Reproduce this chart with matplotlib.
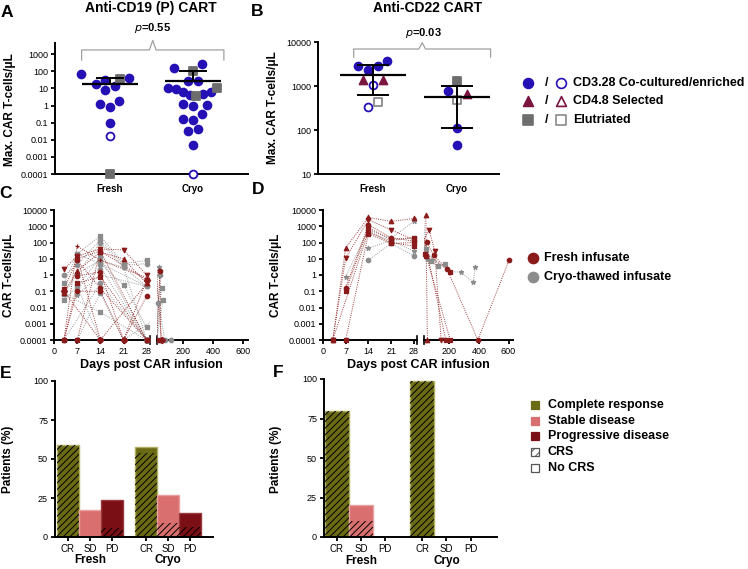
import matplotlib
matplotlib.use('Agg')
import matplotlib.pyplot as plt
import matplotlib.transforms as mtransforms
from matplotlib.patches import Rectangle
from matplotlib.ticker import FixedLocator, FuncFormatter, NullLocator

plt.rcParams['font.family'] = ['Liberation Sans', 'DejaVu Sans']
plt.rcParams['hatch.linewidth'] = 0.7

# ---- data ----
groups = ['Fresh', 'Cryo']

# panel A: anti-CD19 max CAR T-cells/uL
a_fresh = [67, 17, 31, 8, 14, 40, 1.3, 1.9, 0.85, 0.1, 0.017, 34, 1e-4]
a_fresh_type = ['c'] * 10 + ['c_o', 'e', 'e']
a_fresh_jit = [-0.35, -0.17, -0.06, -0.06, 0.06, 0.23, -0.12, 0.11, 0, 0, 0, 0.12, 0]
a_cryo = [165, 260, 27, 29, 11, 9, 6.4, 3.9, 5, 6.5, 1.3, 0.93, 1.07, 0.3, 0.17, 0.14,
          0.033, 0.044, 0.005, 105, 3.5, 10.5, 1e-4]
a_cryo_type = ['c'] * 19 + ['e', 'e', 'e', 'c_o']
a_cryo_jit = [-0.23, 0.11, -0.06, 0.06, -0.30, -0.21, -0.12, -0.04, 0.12, 0.21, -0.12, 0,
              0.17, 0.11, -0.12, 0, -0.06, 0.06, 0, 0, 0.04, 0.29, 0]
a_mean = [18, 28]
a_upper = [38, 100]
a_lower = [None, None]

# panel B: anti-CD22
b_fresh = [2900, 2300, 2900, 3700, 1350, 1350, 1050, 330, 430]
b_fresh_type = ['c', 'c', 'c', 'c', 't', 't', 'c_o', 'c_o', 'e_o']
b_fresh_jit = [-0.18, -0.06, 0.06, 0.17, -0.12, 0.12, 0, -0.06, 0.06]
b_cryo = [780, 1290, 660, 490, 110, 46]
b_cryo_type = ['c', 'e', 't', 'e_o', 'c', 'c']
b_cryo_jit = [-0.11, 0, 0.12, 0, 0, 0]
b_mean = [1800, 550]
b_upper = [2950, 1000]
b_lower = [615, 110]

# panel C: anti-CD19 kinetics (days, CAR T-cells/uL, marker)
c_fresh = [
    ([3, 7, 14, 21, 28], [2.2, 15, 40, 35, 1.0], 'v'),
    ([3, 7, 14, 28], [0.13, 10, 30, 0.5], 's'),
    ([3, 7, 14, 21, 28], [0.08, 1.8, 25, 10, 0.3], '^'),
    ([3, 7, 14, 28, 45], [1e-4, 60, 8, 0.7, 2.0], '+'),
    ([7, 14, 21, 28], [0.9, 1.5, 1e-4, 0.05], 'o'),
    ([3, 7, 14, 28], [1e-4, 0.3, 0.8, 1e-4], 's'),
    ([7, 14, 28, 50, 55], [8, 0.15, 1e-4, 1.8, 1e-4], 'o'),
    ([3, 14, 21, 28, 60], [0.1, 1e-4, 1e-4, 0.5, 1e-4], 'D'),
    ([7, 14, 28, 40], [1e-4, 30, 1e-4, 1e-4], 's'),
    ([3, 7, 14, 21], [1e-4, 0.1, 0.1, 1e-4], 'o'),
    ([7, 14, 28], [12, 1e-4, 0.3], 'v'),
]
c_cryo = [
    ([3, 7, 14, 21, 28], [0.3, 20, 250, 5, 8], 's'),
    ([3, 7, 14, 21, 28], [0.95, 4, 150, 4, 5], 'o'),
    ([3, 7, 14, 21, 28], [0.07, 1.2, 100, 3, 0.2], 'o'),
    ([3, 7, 14, 28], [0.03, 0.2, 12, 1e-4], 's'),
    ([7, 14, 21, 28], [20, 5, 0.25, 0.0006], 's'),
    ([7, 14, 28, 45], [0.15, 3, 1e-4, 1e-4], '^'),
    ([7, 14, 28, 40], [0.06, 1, 0.2, 3], '*'),
    ([3, 14, 28, 50], [1e-4, 0.3, 1e-4, 1], 'o'),
    ([7, 14, 21, 38], [1e-4, 0.08, 1e-4, 0.02], 'o'),
    ([3, 14, 28, 60], [0.07, 0.005, 1e-4, 0.17], 's'),
    ([7, 14, 28, 70], [0.2, 1e-4, 1e-4, 0.03], 's'),
    ([14, 28, 80, 120], [5, 0.2, 1e-4, 1e-4], 'o'),
    ([7, 14, 21, 28], [1.2, 8, 3, 1e-4], 'o'),
]

# panel D: anti-CD22 kinetics
d_fresh = [
    ([3, 7, 14, 21, 28, 42, 53], [1e-4, 47, 3500, 2000, 3000, 4600, 1e-4], '^'),
    ([3, 7, 14, 21, 28, 65, 102, 146], [1e-4, 11, 2500, 600, 150, 570, 30, 1e-4], 'v'),
    ([7, 14, 21, 28, 49, 95, 184, 393, 603], [0.17, 1200, 200, 120, 105, 16, 2.5, 1e-4, 8], 'o'),
    ([3, 14, 21, 28, 37, 207], [1e-4, 500, 100, 60, 21, 1.6], 's'),
    ([7, 14, 21, 28, 45, 207], [1e-4, 350, 87, 100, 15, 1e-4], 's'),
    ([7, 14, 21, 28, 177], [0.1, 800, 150, 200, 1e-4], 's'),
]
d_cryo = [
    ([7, 14, 21, 28, 42, 53, 85], [0.8, 600, 180, 2000, 45, 9, 8], '*'),
    ([14, 21, 28, 42, 75, 125, 172], [400, 130, 200, 35, 7, 3.5, 5], 's'),
    ([14, 21, 28, 207, 277, 363, 375], [45, 130, 30, 1.6, 1.5, 0.35, 3], '*'),
    ([14, 21, 28], [8, 90, 15], 'o'),
]

# panels E/F: response (% patients) and CRS share
outcomes = ['CR', 'SD', 'PD']
e_fresh = [58.8, 17.6, 23.5]
e_fresh_crs = [58.8, 0, 5.9]
e_cryo = [57.7, 26.9, 15.4]
e_cryo_crs = [53.8, 9.0, 6.4]
f_fresh = [80, 20, 0]
f_fresh_crs = [80, 10, 0]
f_cryo = [99, 0, 0]
f_cryo_crs = [99, 0, 0]

# ---- colours ----
BLUE = '#2410b4'
TRI = '#7a1540'
SQ = '#6d6d6d'
FRESH_C = '#8b1a1a'
CRYO_C = '#8c8c8c'
CR_C, SD_C, PD_C = '#6b6b16', '#d9706f', '#7a1016'
CR_E, SD_E, PD_E = '#b0b060', '#e8a0a0', '#9a3a3e'

STY = {
    'c': ('o', BLUE, BLUE), 'c_o': ('o', 'white', BLUE),
    't': ('^', TRI, TRI), 't_o': ('^', 'white', TRI),
    'e': ('s', SQ, SQ), 'e_o': ('s', 'white', '#8a8a8a'),
}

W, H = 748, 569
fig = plt.figure(figsize=(W / 100, H / 100), dpi=100)


def px_axes(x0, x1, y0, y1):
    return fig.add_axes([x0 / W, 1 - y1 / H, (x1 - x0) / W, (y1 - y0) / H])


def style(ax):
    for s in ['top', 'right']:
        ax.spines[s].set_visible(False)
    for s in ['left', 'bottom']:
        ax.spines[s].set_linewidth(1.4)
    ax.tick_params(width=1.3, length=3, labelsize=6.5, pad=2)


logfmt = FuncFormatter(lambda v, p: f'{v:g}')


def log_y(ax, lo, hi, ticks):
    ax.set_yscale('log')
    ax.set_ylim(lo, hi)
    ax.yaxis.set_major_locator(FixedLocator(ticks))
    ax.yaxis.set_major_formatter(logfmt)
    ax.yaxis.set_minor_locator(NullLocator())


def draw_dots(ax, pos, vals, types, jit):
    for v, t, j in zip(vals, types, jit):
        m, fc, ec = STY[t]
        ax.scatter(pos + j, v, marker=m, s=32, facecolor=fc, edgecolor=ec,
                   linewidths=1.3, clip_on=False, zorder=3)


def draw_mean(ax, pos, mean, hi, lo, mw, cw):
    ax.hlines(mean, pos - mw, pos + mw, color='k', lw=1.6, zorder=4)
    ax.vlines(pos, lo if lo else mean, hi, color='k', lw=1.4, zorder=4)
    ax.hlines(hi, pos - cw, pos + cw, color='k', lw=1.4, zorder=4)
    if lo:
        ax.hlines(lo, pos - cw, pos + cw, color='k', lw=1.4, zorder=4)


def bracket(ax, xl, xr, ylo, yhi, ypk):
    tr = mtransforms.blended_transform_factory(ax.transData, ax.transAxes)
    mid = (xl + xr) / 2
    ax.plot([xl, xl, mid - 0.04, mid, mid + 0.04, xr, xr],
            [ylo, yhi, yhi, ypk, yhi, yhi, ylo], color='#a0a0a0', lw=0.9,
            transform=tr, clip_on=False)


# ---- A ----
axA = px_axes(55, 248, 43, 174)
style(axA)
log_y(axA, 1e-4, 4500, [1e-4, 1e-3, 1e-2, 0.1, 1, 10, 100, 1000])
axA.set_xlim(-0.66, 1.66)
draw_dots(axA, 0, a_fresh, a_fresh_type, a_fresh_jit)
draw_dots(axA, 1, a_cryo, a_cryo_type, a_cryo_jit)
for i in range(2):
    draw_mean(axA, i, a_mean[i], a_upper[i], a_lower[i], 0.34, 0.17)
axA.set_xticks([0, 1])
axA.set_xticklabels(groups, fontweight='bold', fontsize=7)
axA.tick_params(axis='x', length=0, pad=7)
bracket(axA, -0.34, 1.37, 0.87, 0.947, 1.02)

# ---- B ----
axB = px_axes(318, 499, 42, 174)
style(axB)
log_y(axB, 10, 10000, [10, 100, 1000, 10000])
axB.set_xlim(-0.655, 1.5)
draw_dots(axB, 0, b_fresh, b_fresh_type, b_fresh_jit)
draw_dots(axB, 1, b_cryo, b_cryo_type, b_cryo_jit)
for i in range(2):
    draw_mean(axB, i, b_mean[i], b_upper[i], b_lower[i], 0.39, 0.19)
axB.set_xticks([0, 1])
axB.set_xticklabels(groups, fontweight='bold', fontsize=7)
axB.tick_params(axis='x', length=0, pad=7)
bracket(axB, -0.23, 1.4, 0.886, 0.947, 0.995)


# ---- C / D (broken x axis) ----
def seg_axes(x0, x1, x2, x3):
    a1 = px_axes(x0, x1, 210, 340)
    a2 = px_axes(x2, x3, 210, 340)
    for a in (a1, a2):
        style(a)
        log_y(a, 1e-4, 1e4, [10.0 ** k for k in range(-4, 5)])
    a1.set_xlim(0, 29)
    a1.set_xticks([0, 7, 14, 21, 28])
    a2.set_xlim(30, 630)
    a2.set_xticks([200, 400, 600])
    a2.spines['left'].set_visible(False)
    a2.tick_params(axis='y', left=False, labelleft=False)
    a1.plot([1, 1], [-0.03, 0.03], color='k', lw=1.2, transform=a1.transAxes, clip_on=False)
    a2.plot([0, 0], [-0.03, 0.03], color='k', lw=1.2, transform=a2.transAxes, clip_on=False)
    return a1, a2


def draw_traj(axes, trajs, color):
    for d, v, m in trajs:
        for a in axes:
            a.plot(d, v, ls=(0, (1, 1.3)), lw=0.7, color=color, alpha=0.85, zorder=2)
            lo, hi = a.get_xlim()
            xs = [x for x in d if lo <= x <= hi]
            ys = [y for x, y in zip(d, v) if lo <= x <= hi]
            a.scatter(xs, ys, marker=m, s=10, color=color, linewidths=0.9,
                      clip_on=False, zorder=3)


axC = seg_axes(54, 150, 157, 248)
draw_traj(axC, c_cryo, CRYO_C)
draw_traj(axC, c_fresh, FRESH_C)
axD = seg_axes(323, 417, 424, 513)
draw_traj(axD, d_cryo, CRYO_C)
draw_traj(axD, d_fresh, FRESH_C)

# ---- E / F ----
bar_x = [0, 1, 2, 3.55, 4.55, 5.55]


def draw_bars(ax, fresh, fresh_crs, cryo, cryo_crs, xlim):
    style(ax)
    vals = fresh + cryo
    crs = fresh_crs + cryo_crs
    ax.bar(bar_x, vals, width=1, color=[CR_C, SD_C, PD_C] * 2,
           edgecolor=[CR_E, SD_E, PD_E] * 2, lw=1, zorder=2)
    ax.bar(bar_x, crs, width=1, facecolor='none', edgecolor='black',
           hatch='/////', lw=0, zorder=3)
    ax.set_ylim(0, 100)
    ax.set_yticks([0, 25, 50, 75, 100])
    ax.set_xlim(*xlim)
    ax.set_xticks(bar_x)
    ax.set_xticklabels(outcomes * 2, fontsize=7)
    tr = mtransforms.blended_transform_factory(ax.transData, ax.transAxes)
    ax.text(1, -0.15, groups[0], transform=tr, ha='center', va='center',
            fontsize=8.5, fontweight='bold')
    ax.text(4.55, -0.15, groups[1], transform=tr, ha='center', va='center',
            fontsize=8.5, fontweight='bold')


axE = px_axes(55, 213, 381, 537)
draw_bars(axE, e_fresh, e_fresh_crs, e_cryo, e_cryo_crs, (-0.58, 6.58))
axF = px_axes(324, 497, 379, 537)
draw_bars(axF, f_fresh, f_fresh_crs, f_cryo, f_cryo_crs, (-0.54, 6.65))

# ---- overlay for text and legends (pixel coordinates) ----
ov = fig.add_axes([0, 0, 1, 1])
ov.set_xlim(0, W)
ov.set_ylim(H, 0)
ov.axis('off')

bold = dict(fontweight='bold')
for lab, x, y in [('A', 7, 12), ('B', 257, 11), ('C', 6, 193), ('D', 258, 189),
                  ('E', 6, 373), ('F', 278, 372)]:
    ov.text(x, y, lab, fontsize=12.5, ha='center', va='center', **bold)

ov.text(151, 8, 'Anti-CD19 (P) CART', fontsize=10, ha='center', va='center', **bold)
ov.text(428, 8, 'Anti-CD22 CART', fontsize=10, ha='center', va='center', **bold)
ov.text(153, 28, r'$\it{p}$=0.55', fontsize=8, ha='center', va='center', **bold)
ov.text(423, 33, r'$\it{p}$=0.03', fontsize=8, ha='center', va='center', **bold)

for txt, x, y in [('Max. CAR T-cells/μL', 10, 110), ('Max. CAR T-cells/μL', 273, 108),
                  ('CAR T-cells/μL', 9, 275), ('CAR T-cells/μL', 276, 275),
                  ('Patients (%)', 8, 459), ('Patients (%)', 276, 459)]:
    ov.text(x, y, txt, fontsize=8.5, rotation=90, ha='center', va='center', **bold)
ov.text(151, 365, 'Days post CAR infusion', fontsize=9, ha='center', va='center', **bold)
ov.text(418, 365, 'Days post CAR infusion', fontsize=9, ha='center', va='center', **bold)

# legend A/B
leg_ab = [('c', 'c_o', 'CD3.28 Co-cultured/enriched', 83),
          ('t', 't_o', 'CD4.8 Selected', 101),
          ('e', 'e_o', 'Elutriated', 120)]
for full, opn, txt, y in leg_ab:
    for key, x in [(full, 528), (opn, 561)]:
        m, fc, ec = STY[key]
        ov.scatter(x, y, marker=m, s=50, facecolor=fc, edgecolor=ec, linewidths=1.2)
    ov.text(547, y, '/', fontsize=9, ha='center', va='center', **bold)
    ov.text(573, y, txt, fontsize=9, ha='left', va='center', **bold)

# legend C/D
for col, txt, y in [(FRESH_C, 'Fresh infusate', 258), (CRYO_C, 'Cryo-thawed infusate', 277)]:
    ov.scatter(533, y, marker='o', s=55, color=col)
    ov.text(544, y, txt, fontsize=9, ha='left', va='center', **bold)

# legend E/F
leg_ef = [(CR_C, None, 'Complete response', 405), (SD_C, None, 'Stable disease', 421),
          (PD_C, None, 'Progressive disease', 436), ('white', '////', 'CRS', 452),
          ('white', None, 'No CRS', 468)]
for fc, hatch, txt, y in leg_ef:
    ec = '#555555' if fc == 'white' else fc
    ov.add_patch(Rectangle((531, y - 4), 8, 8, facecolor=fc, edgecolor=ec,
                           hatch=hatch, lw=0.9))
    ov.text(548, y, txt, fontsize=9, ha='left', va='center', **bold)

fig.savefig('out.png', dpi=100)
